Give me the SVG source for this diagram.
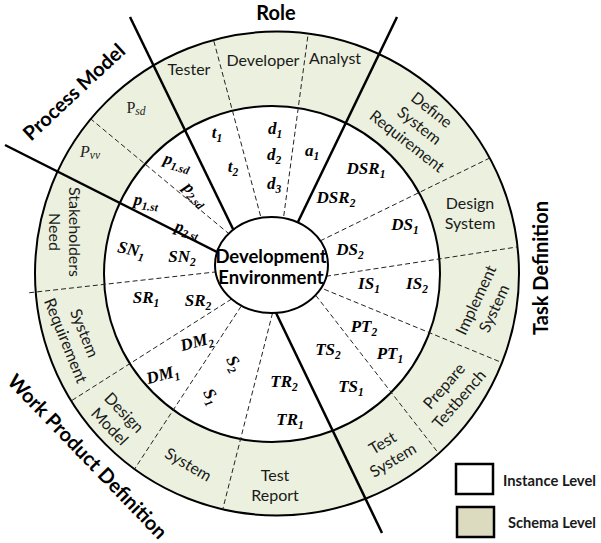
<svg xmlns="http://www.w3.org/2000/svg" width="601" height="543" viewBox="0 0 601 543">
<defs>
<style>
.ring{font-family:Lato,'Liberation Sans',sans-serif;font-size:16px;fill:#1a1a1a}
.hdr{font-family:Lato,'Liberation Sans',sans-serif;font-weight:700;font-size:20px;fill:#000}
.ctr{font-family:Lato,'Liberation Sans',sans-serif;font-weight:700;font-size:18.5px;fill:#000}
.leg{font-family:Lato,'Liberation Sans',sans-serif;font-weight:700;font-size:15px;fill:#1a1a1a}
.m{font-family:'Liberation Serif',serif;font-weight:700;font-style:italic;font-size:17px;fill:#000}
.pm{font-family:'Liberation Serif',serif;font-size:16px;fill:#222}
.sub{font-size:11.5px}
.solid{stroke:#000;stroke-width:2.5;fill:none}
.dash{stroke:#222;stroke-width:1;stroke-dasharray:5 3;fill:none}
.circ{stroke:#000;stroke-width:2}
</style>
<clipPath id="outerClip"><circle cx="277" cy="273.5" r="242"/></clipPath>
</defs>

<g id="schema-ring"><circle class="circ" cx="277" cy="273.5" r="242" fill="#EBF1DE"/></g>
<g id="instance-ring"><circle class="circ" cx="272" cy="274" r="168" fill="#FFFFFF"/></g>

<g id="connectors">
  <g clip-path="url(#outerClip)">
    <line class="dash" x1="262.6" y1="223.7" x2="205" y2="8"/>
    <line class="dash" x1="282.7" y1="223.9" x2="310" y2="20"/>
    <line class="dash" x1="235.7" y1="239.4" x2="80" y2="110"/>
    <line class="dash" x1="313" y1="244.4" x2="500" y2="153"/>
    <line class="dash" x1="318.1" y1="277.5" x2="530" y2="245"/>
    <line class="dash" x1="316.8" y1="286.2" x2="515" y2="368"/>
    <line class="dash" x1="310.9" y1="289.1" x2="450" y2="468"/>
    <line class="dash" x1="238.4" y1="294.7" x2="60" y2="408"/>
    <line class="dash" x1="245.5" y1="299.6" x2="130" y2="476"/>
    <line class="dash" x1="274.5" y1="305.3" x2="219" y2="524"/>
  </g>
  <line class="dash" x1="225" y1="270.9" x2="27" y2="293"/>
  <line class="solid" x1="130" y1="17" x2="236.4" y2="236"/>
  <line class="solid" x1="5" y1="145" x2="226" y2="256.5"/>
  <line class="solid" x1="397" y1="17" x2="293.6" y2="231"/>
  <line class="solid" x1="272.7" y1="306" x2="382" y2="533"/>
</g>

<g id="development-environment">
  <ellipse class="circ" cx="271.5" cy="265" rx="56.5" ry="48" fill="#FFFFFF" stroke-width="2.5"/>
  <text class="ctr" x="271" y="263" text-anchor="middle">Development</text>
  <text class="ctr" x="271" y="284" text-anchor="middle">Environment</text>
</g>

<g id="role">
  <text class="hdr" x="276" y="20" text-anchor="middle">Role</text>
  <text class="ring" x="189" y="75" text-anchor="middle">Tester</text>
  <text class="ring" x="263" y="66" text-anchor="middle">Developer</text>
  <text class="ring" x="335" y="64" text-anchor="middle">Analyst</text>
  <g text-anchor="middle">
    <text class="m" x="217" y="138">t<tspan class="sub" dy="4">1</tspan></text>
    <text class="m" x="233" y="172">t<tspan class="sub" dy="4">2</tspan></text>
    <text class="m" x="275" y="134">d<tspan class="sub" dy="4">1</tspan></text>
    <text class="m" x="274" y="160">d<tspan class="sub" dy="4">2</tspan></text>
    <text class="m" x="274" y="189">d<tspan class="sub" dy="4">3</tspan></text>
    <text class="m" x="312" y="156">a<tspan class="sub" dy="4">1</tspan></text>
  </g>
</g>

<g id="process-model">
  <text class="hdr" transform="translate(74,92) rotate(-43)" x="0" y="7" text-anchor="middle">Process Model</text>
  <text class="pm" x="136" y="113" text-anchor="middle">P<tspan class="sub" dy="2" font-style="italic">sd</tspan></text>
  <text class="pm" x="90" y="157" text-anchor="middle" font-style="italic">P<tspan class="sub" dy="2">vv</tspan></text>
  <g text-anchor="middle">
    <text class="m" transform="translate(177,163) rotate(16)" x="0" y="4">p<tspan class="sub" dy="4">1.sd</tspan></text>
    <text class="m" transform="translate(195,195) rotate(45)" x="0" y="4">p<tspan class="sub" dy="4">2.sd</tspan></text>
    <text class="m" transform="translate(146,202) rotate(7)" x="0" y="4">p<tspan class="sub" dy="4">1.st</tspan></text>
    <text class="m" transform="translate(187,230) rotate(15)" x="0" y="4">p<tspan class="sub" dy="4">2.st</tspan></text>
  </g>
</g>

<g id="task-definition">
  <text class="hdr" transform="translate(541,268) rotate(-90)" x="0" y="7" text-anchor="middle" font-size="19.5">Task Definition</text>
  <text class="ring" transform="translate(419,126) rotate(38)" text-anchor="middle"><tspan x="0" y="-15">Define</tspan><tspan x="0" y="5">System</tspan><tspan x="0" y="25">Requirement</tspan></text>
  <text class="ring" text-anchor="middle"><tspan x="470" y="209">Design</tspan><tspan x="470" y="229">System</tspan></text>
  <text class="ring" transform="translate(485.5,304.5) rotate(-65)" text-anchor="middle"><tspan x="0" y="-5">Implement</tspan><tspan x="0" y="15">System</tspan></text>
  <text class="ring" transform="translate(452,393) rotate(-49)" text-anchor="middle"><tspan x="0" y="-5">Prepare</tspan><tspan x="0" y="15">Testbench</tspan></text>
  <text class="ring" transform="translate(388,452) rotate(-31)" text-anchor="middle"><tspan x="0" y="-5">Test</tspan><tspan x="0" y="15">System</tspan></text>
  <g text-anchor="middle">
    <text class="m" x="366" y="174">DSR<tspan class="sub" dy="4">1</tspan></text>
    <text class="m" x="336" y="203">DSR<tspan class="sub" dy="4">2</tspan></text>
    <text class="m" x="405" y="230">DS<tspan class="sub" dy="4">1</tspan></text>
    <text class="m" x="350" y="255">DS<tspan class="sub" dy="4">2</tspan></text>
    <text class="m" x="369" y="289">IS<tspan class="sub" dy="4">1</tspan></text>
    <text class="m" x="417" y="289">IS<tspan class="sub" dy="4">2</tspan></text>
    <text class="m" x="364" y="332">PT<tspan class="sub" dy="4">2</tspan></text>
    <text class="m" x="390" y="359">PT<tspan class="sub" dy="4">1</tspan></text>
    <text class="m" x="328" y="355">TS<tspan class="sub" dy="4">2</tspan></text>
    <text class="m" x="351" y="392">TS<tspan class="sub" dy="4">1</tspan></text>
  </g>
</g>

<g id="work-product-definition">
  <text class="hdr" transform="translate(87.5,456.5) rotate(46)" x="0" y="7" text-anchor="middle" font-size="18.5">Work Product Definition</text>
  <text class="ring" text-anchor="middle"><tspan x="275" y="481">Test</tspan><tspan x="275" y="501">Report</tspan></text>
  <text class="ring" transform="translate(188,465) rotate(30)" x="0" y="5" text-anchor="middle">System</text>
  <text class="ring" transform="translate(116.5,420) rotate(46)" text-anchor="middle"><tspan x="0" y="-5">Design</tspan><tspan x="0" y="15">Model</tspan></text>
  <text class="ring" transform="translate(74.5,337) rotate(68)" text-anchor="middle"><tspan x="0" y="-5">System</tspan><tspan x="0" y="15">Requirement</tspan></text>
  <text class="ring" transform="translate(64,232) rotate(90)" text-anchor="middle"><tspan x="0" y="-5">Stakeholders</tspan><tspan x="0" y="15">Need</tspan></text>
  <g text-anchor="middle">
    <text class="m" x="284" y="387">TR<tspan class="sub" dy="4">2</tspan></text>
    <text class="m" x="290" y="425">TR<tspan class="sub" dy="4">1</tspan></text>
    <text class="m" transform="translate(233,364) rotate(60)" x="0" y="4">S<tspan class="sub" dy="4">2</tspan></text>
    <text class="m" transform="translate(210,397) rotate(60)" x="0" y="4">S<tspan class="sub" dy="4">1</tspan></text>
    <text class="m" transform="translate(197,343) rotate(-15)" x="0" y="4">DM<tspan class="sub" dy="4">2</tspan></text>
    <text class="m" transform="translate(163,376) rotate(-15)" x="0" y="4">DM<tspan class="sub" dy="4">1</tspan></text>
    <text class="m" x="146" y="303">SR<tspan class="sub" dy="4">1</tspan></text>
    <text class="m" x="198" y="306">SR<tspan class="sub" dy="4">2</tspan></text>
    <text class="m" transform="translate(131,251) rotate(12)" x="0" y="4">SN<tspan class="sub" dy="4">1</tspan></text>
    <text class="m" x="182" y="262">SN<tspan class="sub" dy="4">2</tspan></text>
  </g>
</g>

<g id="legend">
  <g id="legend-instance">
    <rect x="456" y="464" width="37" height="30" fill="#FFFFFF" stroke="#000" stroke-width="2.5"/>
    <text class="leg" x="503" y="486" textLength="93" lengthAdjust="spacingAndGlyphs">Instance Level</text>
  </g>
  <g id="legend-schema">
    <rect x="457" y="507" width="37" height="30" fill="#DCDABF" stroke="#000" stroke-width="2.5"/>
    <text class="leg" x="508" y="528" textLength="88" lengthAdjust="spacingAndGlyphs">Schema Level</text>
  </g>
</g>
</svg>
